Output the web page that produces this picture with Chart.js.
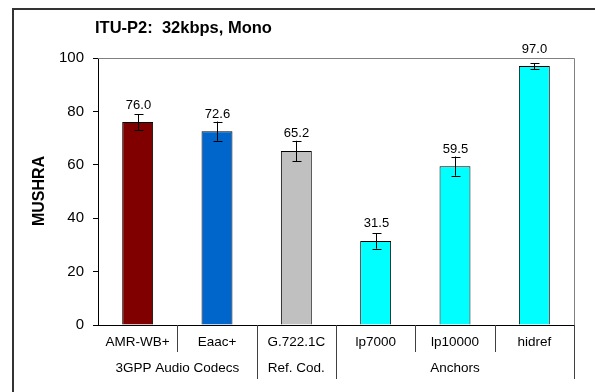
<!DOCTYPE html>
<html>
<head>
<meta charset="utf-8">
<script src="https://cdn.jsdelivr.net/npm/chart.js@4.4.0/dist/chart.umd.min.js"></script>
<style>
  html, body { margin: 0; padding: 0; background: #fff; }
</style>
</head>
<body>
<canvas id="myChart" width="595" height="392"></canvas>
<script>
const codecs = ['AMR-WB+', 'Eaac+', 'G.722.1C', 'lp7000', 'lp10000', 'hidref'];
const mushra = [76.0, 72.6, 65.2, 31.5, 59.5, 97.0];
const ci95 = [3.0, 3.6, 3.8, 2.9, 3.6, 1.1];
const groups = ['3GPP Audio Codecs', 'Ref. Cod.', 'Anchors'];
const groupSizes = [2, 1, 3];
const yTicks = [0, 20, 40, 60, 80, 100];
const barColors = ['#800000', '#0066cc', '#c0c0c0', '#00ffff', '#00ffff', '#00ffff'];

const FONT = '"Liberation Sans", Arial, sans-serif';

const extras = {
  id: 'extras',
  beforeDraw(chart) {
    const c = chart.ctx;
    c.save();
    c.fillStyle = '#fff';
    c.fillRect(0, 0, chart.width, chart.height);
    // outer frame (only top/left visible)
    c.strokeStyle = '#333';
    c.lineWidth = 2;
    c.beginPath();
    c.moveTo(13, chart.height);
    c.lineTo(13, 9);
    c.lineTo(chart.width, 9);
    c.stroke();
    c.restore();
  },
  afterDatasetsDraw(chart) {
    const c = chart.ctx;
    const x = chart.scales.x, y = chart.scales.y;
    c.save();
    c.strokeStyle = '#000';
    c.lineWidth = 1;
    c.fillStyle = '#000';
    c.font = '13px ' + FONT;
    c.textAlign = 'center';
    c.textBaseline = 'middle';
    mushra.forEach((v, i) => {
      const px = Math.round(x.getPixelForValue(i)) + 0.5;
      const hi = y.getPixelForValue(v + ci95[i]);
      const lo = y.getPixelForValue(v - ci95[i]);
      c.beginPath();
      c.moveTo(px, hi); c.lineTo(px, lo);
      c.moveTo(px - 4, Math.round(hi) + 0.5); c.lineTo(px + 5, Math.round(hi) + 0.5);
      c.moveTo(px - 4, Math.round(lo) + 0.5); c.lineTo(px + 5, Math.round(lo) + 0.5);
      c.stroke();
      c.fillText(v.toFixed(1), px, y.getPixelForValue(v) - 17);
    });
    c.restore();
  },
  afterDraw(chart) {
    const c = chart.ctx;
    const a = chart.chartArea;
    const x = chart.scales.x;
    const w = (a.right - a.left) / codecs.length;
    c.save();
    // plot border top/right
    c.strokeStyle = '#808080';
    c.lineWidth = 1;
    c.beginPath();
    c.moveTo(a.left, a.top + 0.5);
    c.lineTo(a.right + 0.5, a.top + 0.5);
    c.lineTo(a.right + 0.5, a.bottom);
    c.stroke();

    // category separators
    const ends = [];
    let acc = 0;
    groupSizes.forEach(n => { acc += n; ends.push(acc); });
    c.strokeStyle = '#404040';
    for (let i = 1; i <= codecs.length; i++) {
      const px = Math.round(a.left + i * w) + 0.5;
      const long = ends.includes(i);
      c.beginPath();
      c.moveTo(px, a.bottom);
      c.lineTo(px, a.bottom + (long ? 54 : 27));
      c.stroke();
    }

    c.fillStyle = '#000';
    c.textAlign = 'center';
    c.textBaseline = 'middle';
    c.font = '13.5px ' + FONT;
    codecs.forEach((lab, i) => {
      c.fillText(lab, x.getPixelForValue(i), a.bottom + 17);
    });
    let start = 0;
    groups.forEach((g, k) => {
      const mid = a.left + (start + groupSizes[k] / 2) * w;
      c.fillText(g, mid, a.bottom + 43);
      start += groupSizes[k];
    });

    // title
    c.font = 'bold 16.5px ' + FONT;
    c.textAlign = 'left';
    c.fillText('ITU-P2:  32kbps, Mono', 95, 28);

    // y title
    c.translate(40, 191);
    c.rotate(-Math.PI / 2);
    c.textAlign = 'center';
    c.font = 'bold 16px ' + FONT;
    c.fillText('MUSHRA', 0, 0);
    c.restore();
  }
};

const ctx = document.getElementById('myChart').getContext('2d');
const myChart = new Chart(ctx, {
  type: 'bar',
  data: {
    labels: codecs,
    datasets: [{
      data: mushra,
      backgroundColor: barColors,
      borderColor: '#000',
      borderWidth: 1,
      categoryPercentage: 1,
      barPercentage: 0.39
    }]
  },
  options: {
    responsive: false,
    animation: false,
    events: [],
    layout: { padding: { left: 0, top: 58, right: 21, bottom: 0 } },
    plugins: {
      legend: { display: false },
      tooltip: { enabled: false }
    },
    scales: {
      x: {
        grid: { display: false },
        border: { color: '#000', width: 1 },
        ticks: { display: false },
        afterFit(s) { s.height = 67; }
      },
      y: {
        min: 0,
        max: 100,
        afterBuildTicks(s) { s.ticks = yTicks.map(v => ({ value: v })); },
        grid: { drawOnChartArea: false, tickLength: 5, color: '#000' },
        border: { color: '#000', width: 1 },
        ticks: { color: '#000', font: { family: FONT, size: 15 }, padding: 9 },
        afterFit(s) { s.width = 98; }
      }
    }
  },
  plugins: [extras]
});
</script>
</body>
</html>
